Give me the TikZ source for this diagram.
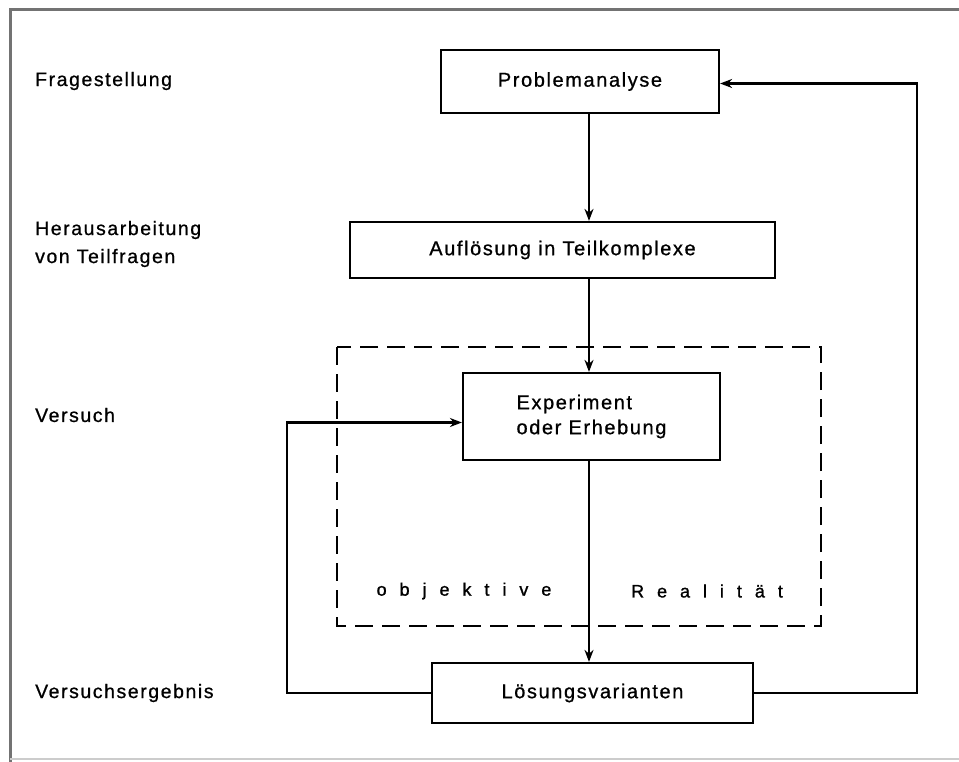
\documentclass[tikz,border=0pt]{standalone}
\usepackage{fontspec}
\setmainfont{Liberation Sans}[LetterSpace=8,FakeBold=0.8]
\newfontfamily\widefont{Liberation Sans}[LetterSpace=72,FakeBold=1.2]
\usetikzlibrary{arrows.meta}
\begin{document}
\begin{tikzpicture}[x=1pt,y=-1pt,
  box/.style={draw,line width=2.2pt,inner sep=0pt,font=\fontsize{20}{25}\selectfont},
  lbl/.style={anchor=west,inner sep=0pt,align=left,font=\fontsize{19.5}{28}\selectfont},
  arr/.style={line width=2.2pt,-{Stealth[length=12pt,width=9pt]}},
  dashbox/.style={line width=2.5pt,dash pattern=on 18pt off 9pt},
  frame/.style={line width=3pt,draw=black!55}]
\useasboundingbox (0,0) rectangle (959,762);
\draw[frame] (10,762) -- (10,10) -- (959,10);
\draw[line width=2pt,draw=black!20] (10,759) -- (959,759);

\node[box,minimum width=278pt,minimum height=63pt] (P) at (580,81.5) {Problemanalyse};
\node[box,minimum width=425pt,minimum height=56pt] (A) at (562.5,250) {Auflösung in Teilkomplexe};
\node[box,minimum width=257pt,minimum height=87pt,align=left] (E) at (591.5,416.5) {Experiment\\oder Erhebung};
\node[box,minimum width=321pt,minimum height=60pt] (L) at (592.5,693) {Lösungsvarianten};

\draw[dashbox] (337,347) rectangle (821,626);
\node[inner sep=0pt,font=\fontsize{18}{22}\selectfont\widefont] (obj) at (464,591) {objektive};
\node[inner sep=0pt,font=\fontsize{18}{22}\selectfont\widefont] (real) at (707,591) {Realität};

\node[lbl] (l1) at (35,81) {Fragestellung};
\node[lbl] (l2) at (35,244) {Herausarbeitung\\von Teilfragen};
\node[lbl] (l3) at (35,415) {Versuch};
\node[lbl] (l4) at (35,693) {Versuchsergebnis};

\coordinate (col) at (589,0);
\coordinate (lx) at (287,0);
\coordinate (rx) at (917,0);

\draw[arr] (P.south -| col) -- (A.north -| col);
\draw[arr] (A.south -| col) -- (E.north -| col);
\draw[arr] (E.south -| col) -- (L.north -| col);

\draw[arr] (L.west) -- (L.west -| lx) |- ([yshift=-6pt]E.west);
\draw[arr] (L.east) -- (L.east -| rx) |- ([yshift=-2pt]P.east);
\end{tikzpicture}
\end{document}
